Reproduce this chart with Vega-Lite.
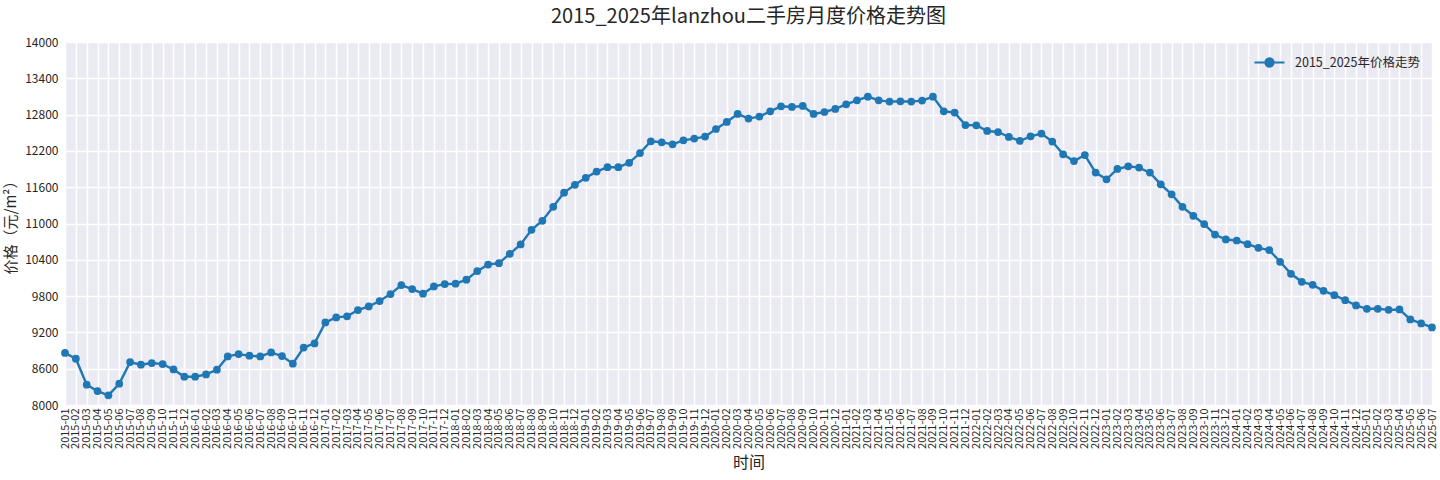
{
  "$schema": "https://vega.github.io/schema/vega-lite/v6.json",
  "autosize": "none",
  "width": 1367,
  "height": 363,
  "padding": {"left": 65, "top": 42, "right": 8, "bottom": 75},
  "background": "white",
  "config": {
    "font": "Noto Sans CJK SC",
    "view": {"stroke": null, "fill": "#EAEAF2"},
    "axis": {
      "domain": false,
      "ticks": false,
      "grid": true,
      "gridColor": "white",
      "gridWidth": 1.5,
      "labelColor": "#262626",
      "titleColor": "#262626",
      "labelFontSize": 12,
      "titleFontSize": 15,
      "titleFontWeight": "normal"
    }
  },
  "title": {
    "text": "2015_2025年lanzhou二手房月度价格走势图",
    "fontSize": 20,
    "fontWeight": "normal",
    "color": "#262626",
    "anchor": "middle",
    "offset": 9
  },
  "data": {
    "values": [
      {"month": "2015-01", "price": 8860},
      {"month": "2015-02", "price": 8765},
      {"month": "2015-03", "price": 8336},
      {"month": "2015-04", "price": 8230},
      {"month": "2015-05", "price": 8160},
      {"month": "2015-06", "price": 8352},
      {"month": "2015-07", "price": 8709},
      {"month": "2015-08", "price": 8666},
      {"month": "2015-09", "price": 8693},
      {"month": "2015-10", "price": 8676},
      {"month": "2015-11", "price": 8588},
      {"month": "2015-12", "price": 8468},
      {"month": "2016-01", "price": 8468},
      {"month": "2016-02", "price": 8506},
      {"month": "2016-03", "price": 8583},
      {"month": "2016-04", "price": 8803},
      {"month": "2016-05", "price": 8841},
      {"month": "2016-06", "price": 8815},
      {"month": "2016-07", "price": 8803},
      {"month": "2016-08", "price": 8869},
      {"month": "2016-09", "price": 8808},
      {"month": "2016-10", "price": 8683},
      {"month": "2016-11", "price": 8950},
      {"month": "2016-12", "price": 9018},
      {"month": "2017-01", "price": 9365},
      {"month": "2017-02", "price": 9448},
      {"month": "2017-03", "price": 9465},
      {"month": "2017-04", "price": 9569},
      {"month": "2017-05", "price": 9630},
      {"month": "2017-06", "price": 9718},
      {"month": "2017-07", "price": 9833},
      {"month": "2017-08", "price": 9982},
      {"month": "2017-09", "price": 9916},
      {"month": "2017-10", "price": 9840},
      {"month": "2017-11", "price": 9960},
      {"month": "2017-12", "price": 9998},
      {"month": "2018-01", "price": 10005},
      {"month": "2018-02", "price": 10071},
      {"month": "2018-03", "price": 10213},
      {"month": "2018-04", "price": 10322},
      {"month": "2018-05", "price": 10345},
      {"month": "2018-06", "price": 10499},
      {"month": "2018-07", "price": 10653},
      {"month": "2018-08", "price": 10896},
      {"month": "2018-09", "price": 11045},
      {"month": "2018-10", "price": 11276},
      {"month": "2018-11", "price": 11510},
      {"month": "2018-12", "price": 11640},
      {"month": "2019-01", "price": 11755},
      {"month": "2019-02", "price": 11858},
      {"month": "2019-03", "price": 11930},
      {"month": "2019-04", "price": 11930},
      {"month": "2019-05", "price": 12003},
      {"month": "2019-06", "price": 12165},
      {"month": "2019-07", "price": 12359},
      {"month": "2019-08", "price": 12342},
      {"month": "2019-09", "price": 12309},
      {"month": "2019-10", "price": 12375},
      {"month": "2019-11", "price": 12403},
      {"month": "2019-12", "price": 12436},
      {"month": "2020-01", "price": 12562},
      {"month": "2020-02", "price": 12678},
      {"month": "2020-03", "price": 12810},
      {"month": "2020-04", "price": 12734},
      {"month": "2020-05", "price": 12767},
      {"month": "2020-06", "price": 12855},
      {"month": "2020-07", "price": 12937},
      {"month": "2020-08", "price": 12926},
      {"month": "2020-09", "price": 12943},
      {"month": "2020-10", "price": 12810},
      {"month": "2020-11", "price": 12843},
      {"month": "2020-12", "price": 12893},
      {"month": "2021-01", "price": 12970},
      {"month": "2021-02", "price": 13036},
      {"month": "2021-03", "price": 13097},
      {"month": "2021-04", "price": 13036},
      {"month": "2021-05", "price": 13015},
      {"month": "2021-06", "price": 13020},
      {"month": "2021-07", "price": 13015},
      {"month": "2021-08", "price": 13031},
      {"month": "2021-09", "price": 13097},
      {"month": "2021-10", "price": 12855},
      {"month": "2021-11", "price": 12833},
      {"month": "2021-12", "price": 12628},
      {"month": "2022-01", "price": 12623},
      {"month": "2022-02", "price": 12529},
      {"month": "2022-03", "price": 12512},
      {"month": "2022-04", "price": 12430},
      {"month": "2022-05", "price": 12364},
      {"month": "2022-06", "price": 12441},
      {"month": "2022-07", "price": 12486},
      {"month": "2022-08", "price": 12354},
      {"month": "2022-09", "price": 12144},
      {"month": "2022-10", "price": 12033},
      {"month": "2022-11", "price": 12132},
      {"month": "2022-12", "price": 11841},
      {"month": "2023-01", "price": 11731},
      {"month": "2023-02", "price": 11901},
      {"month": "2023-03", "price": 11945},
      {"month": "2023-04", "price": 11924},
      {"month": "2023-05", "price": 11841},
      {"month": "2023-06", "price": 11647},
      {"month": "2023-07", "price": 11482},
      {"month": "2023-08", "price": 11275},
      {"month": "2023-09", "price": 11128},
      {"month": "2023-10", "price": 10990},
      {"month": "2023-11", "price": 10818},
      {"month": "2023-12", "price": 10736},
      {"month": "2024-01", "price": 10719},
      {"month": "2024-02", "price": 10659},
      {"month": "2024-03", "price": 10598},
      {"month": "2024-04", "price": 10560},
      {"month": "2024-05", "price": 10367},
      {"month": "2024-06", "price": 10168},
      {"month": "2024-07", "price": 10036},
      {"month": "2024-08", "price": 9986},
      {"month": "2024-09", "price": 9887},
      {"month": "2024-10", "price": 9815},
      {"month": "2024-11", "price": 9733},
      {"month": "2024-12", "price": 9645},
      {"month": "2025-01", "price": 9590},
      {"month": "2025-02", "price": 9590},
      {"month": "2025-03", "price": 9573},
      {"month": "2025-04", "price": 9579},
      {"month": "2025-05", "price": 9414},
      {"month": "2025-06", "price": 9348},
      {"month": "2025-07", "price": 9282}
    ]
  },
  "transform": [{"calculate": "'2015_2025年价格走势'", "as": "series"}],
  "encoding": {
    "x": {
      "field": "month",
      "type": "ordinal",
      "sort": null,
      "scale": {"type": "point", "padding": 0},
      "axis": {"labelAngle": -90, "labelPadding": 3, "labelFontSize": 11, "title": "时间", "titlePadding": 6, "titleFontSize": 16}
    },
    "y": {
      "field": "price",
      "type": "quantitative",
      "scale": {"domain": [8000, 14000], "nice": false, "zero": false},
      "axis": {"values": [8000, 8600, 9200, 9800, 10400, 11000, 11600, 12200, 12800, 13400, 14000], "format": "d", "labelPadding": 7, "title": "价格（元/m²）", "titlePadding": 6}
    },
    "color": {
      "field": "series",
      "type": "nominal",
      "scale": {"range": ["#1f77b4"]},
      "legend": {
        "title": null,
        "orient": "none",
        "legendX": 1188,
        "legendY": 4,
        "padding": 0,
        "labelFontSize": 12.5,
        "labelColor": "#262626",
        "labelOffset": 9,
        "symbolType": "M-1,0H1M-0.27,0A0.27,0.27 0 1,0 0.27,0A0.27,0.27 0 1,0 -0.27,0Z",
        "symbolSize": 900,
        "symbolStrokeWidth": 2.2,
        "symbolFillColor": "#1f77b4",
        "symbolStrokeColor": "#1f77b4",
        "symbolOpacity": 1
      }
    }
  },
  "layer": [
    {"mark": {"type": "line", "strokeWidth": 2.4}},
    {"mark": {"type": "point", "filled": true, "opacity": 1, "size": 60}}
  ]
}
